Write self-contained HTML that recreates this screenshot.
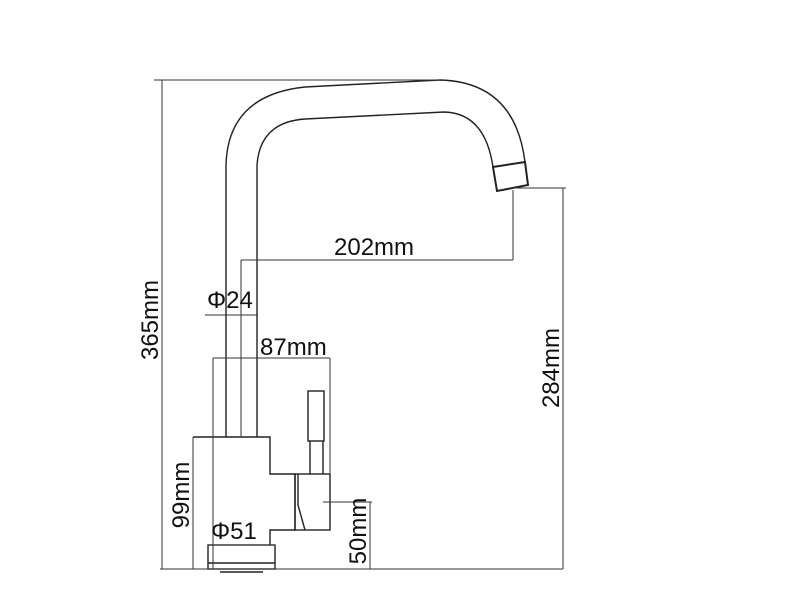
<!DOCTYPE html>
<html><head><style>body{margin:0;background:#fff}svg{display:block}text{font-family:"Liberation Sans",sans-serif;font-size:24px;fill:#111}</style></head>
<body>
<svg width="800" height="600" viewBox="0 0 800 600" xmlns="http://www.w3.org/2000/svg">
<g fill="none" stroke="#222" stroke-width="1.4">
<path d="M226,437 L226,165 Q228,95 305,87 L440,80 Q515,82 525,162"/>
<path d="M257,437 L257,165 Q260,122 305,119 L444,112 Q485,113 493,167"/>
<path d="M493,167 L497,191 L528,185 L525,162 Z" stroke-width="2"/>
<path d="M193,437 L270,437 L270,474 L295,474 L295,530 L270,530 L270,545"/>
<rect x="208" y="545" width="67" height="24"/>
<line x1="208" y1="563" x2="275" y2="563"/>
<line x1="220" y1="572" x2="263" y2="572"/>
<rect x="295" y="474" width="35" height="56"/>
<path d="M298,474 L298,505 L305,530"/>
<rect x="308" y="391" width="16" height="50"/>
<path d="M310,441 L310,474 M323,441 L323,474"/>
</g>
<g fill="none" stroke="#333" stroke-width="1">
<line x1="154" y1="80" x2="440" y2="80"/>
<line x1="162" y1="80" x2="162" y2="569"/>
<line x1="160" y1="569" x2="563" y2="569"/>
<line x1="241" y1="260" x2="241" y2="437"/>
<line x1="241" y1="260" x2="513" y2="260"/>
<line x1="513" y1="190" x2="513" y2="260"/>
<line x1="513" y1="188" x2="566" y2="188"/>
<line x1="563" y1="188" x2="563" y2="569"/>
<line x1="205" y1="315" x2="258" y2="315"/>
<line x1="213" y1="358" x2="330" y2="358"/>
<line x1="213" y1="358" x2="213" y2="569"/>
<line x1="330" y1="358" x2="330" y2="474"/>
<line x1="193" y1="437" x2="193" y2="569"/>
<line x1="208" y1="545" x2="275" y2="545"/>
<line x1="323" y1="502" x2="372" y2="502"/>
<line x1="370" y1="502" x2="370" y2="569"/>
</g>
<text x="334" y="255">202mm</text>
<text x="207" y="308">Φ24</text>
<text x="260" y="355">87mm</text>
<text x="211" y="539">Φ51</text>
<text transform="translate(189,495) rotate(-90)" text-anchor="middle">99mm</text>
<text transform="translate(158,320) rotate(-90)" text-anchor="middle">365mm</text>
<text transform="translate(559,368) rotate(-90)" text-anchor="middle">284mm</text>
<text transform="translate(366,531) rotate(-90)" text-anchor="middle">50mm</text>
</svg>
</body></html>
